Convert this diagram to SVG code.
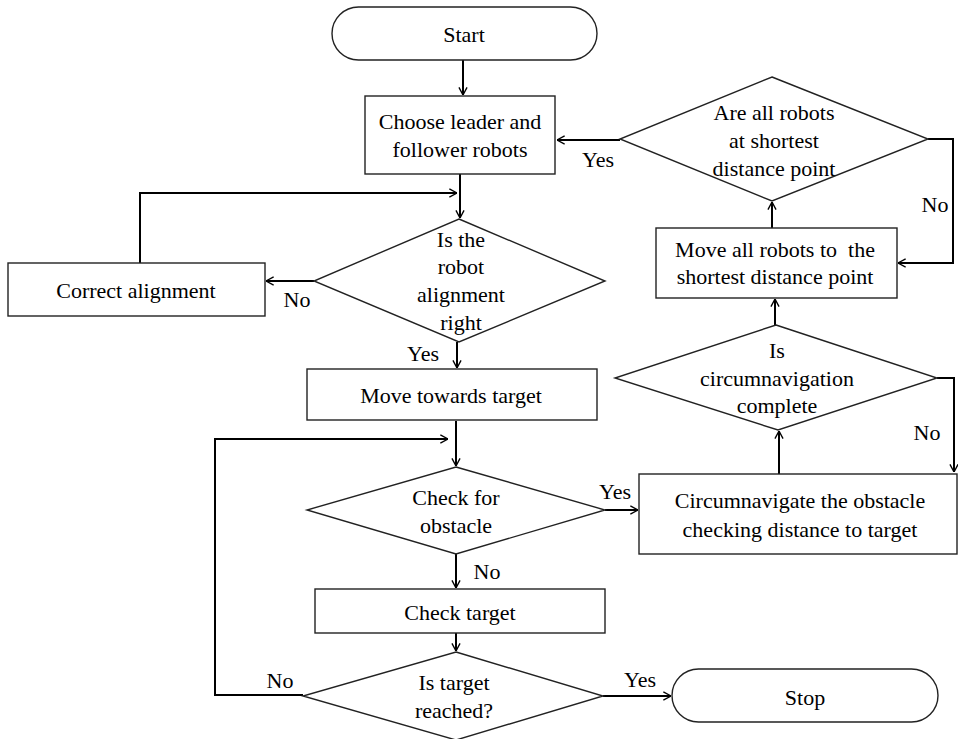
<svg xmlns="http://www.w3.org/2000/svg" width="958" height="739" viewBox="0 0 958 739">
<style>
.shape{fill:#fff;stroke:#222;stroke-width:1.4}
.conn{fill:none;stroke:#000;stroke-width:2}
text{font-family:"Liberation Serif","Times New Roman",serif;font-size:22px;fill:#000;text-anchor:middle}
</style>
<defs>
<marker id="arr" viewBox="0 0 10 10" markerWidth="9" markerHeight="11" refX="9.5" refY="5" orient="auto" markerUnits="userSpaceOnUse">
<path d="M1,0.5 L9.5,5 L1,9.5" fill="none" stroke="#000" stroke-width="1.5"/>
</marker>
</defs>
<rect width="958" height="739" fill="#fff"/>
<g id="connectors">
<path class="conn" d="M463,60 V95" marker-end="url(#arr)"/>
<path class="conn" d="M460,174 V218" marker-end="url(#arr)"/>
<path class="conn" d="M140,263 V193 H457" marker-end="url(#arr)"/>
<path class="conn" d="M314,281 H266" marker-end="url(#arr)"/>
<path class="conn" d="M457,342 V368" marker-end="url(#arr)"/>
<path class="conn" d="M456,421 V466" marker-end="url(#arr)"/>
<path class="conn" d="M303,695 H215 V439 H448" marker-end="url(#arr)"/>
<path class="conn" d="M456,554 V588" marker-end="url(#arr)"/>
<path class="conn" d="M456,633 V651" marker-end="url(#arr)"/>
<path class="conn" d="M603,696 H671" marker-end="url(#arr)"/>
<path class="conn" d="M605,510 H638" marker-end="url(#arr)"/>
<path class="conn" d="M779,474 V431" marker-end="url(#arr)"/>
<path class="conn" d="M775,325 V299" marker-end="url(#arr)"/>
<path class="conn" d="M937,378 H954 V472" marker-end="url(#arr)"/>
<path class="conn" d="M772,228 V202" marker-end="url(#arr)"/>
<path class="conn" d="M928,139 H953 V263 H898" marker-end="url(#arr)"/>
<path class="conn" d="M620,140 H557" marker-end="url(#arr)"/>
</g>
<g id="labels">
<text x="598" y="167">Yes</text>
<text x="935" y="212">No</text>
<text x="297" y="307">No</text>
<text x="423" y="361">Yes</text>
<text x="927" y="440">No</text>
<text x="615" y="499">Yes</text>
<text x="487" y="579">No</text>
<text x="280" y="688">No</text>
<text x="640" y="687">Yes</text>
</g>
<g id="start">
<rect class="shape" x="332" y="7" width="265" height="53" rx="26.5"/>
<text x="464" y="42">Start</text>
</g>
<g id="choose">
<rect class="shape" x="365" y="96" width="190" height="78"/>
<text x="460" y="129">Choose leader and</text>
<text x="460" y="157">follower robots</text>
</g>
<g id="alignment-check">
<polygon class="shape" points="459,219 605,281 459,342 314,281"/>
<text x="461" y="247">Is the</text>
<text x="461" y="274">robot</text>
<text x="461" y="302">alignment</text>
<text x="461" y="330">right</text>
</g>
<g id="correct">
<rect class="shape" x="8" y="263" width="257" height="53"/>
<text x="136" y="298">Correct alignment</text>
</g>
<g id="move-towards">
<rect class="shape" x="307" y="369" width="290" height="51"/>
<text x="451" y="403">Move towards target</text>
</g>
<g id="obstacle-check">
<polygon class="shape" points="456,467 605,510 456,554 307,510"/>
<text x="456" y="505">Check for</text>
<text x="456" y="533">obstacle</text>
</g>
<g id="check-target">
<rect class="shape" x="315" y="589" width="290" height="44"/>
<text x="460" y="620">Check target</text>
</g>
<g id="target-reached">
<polygon class="shape" points="456,652 603,696 456,740 303,696"/>
<text x="454" y="690">Is target</text>
<text x="454" y="718">reached?</text>
</g>
<g id="stop">
<rect class="shape" x="672" y="669" width="266" height="53" rx="26.5"/>
<text x="805" y="705">Stop</text>
</g>
<g id="circumnavigate">
<rect class="shape" x="639" y="474" width="318" height="80"/>
<text x="800" y="508">Circumnavigate the obstacle</text>
<text x="800" y="537">checking distance to target</text>
</g>
<g id="circ-complete">
<polygon class="shape" points="776,325 937,378 778,430 615,378"/>
<text x="777" y="358">Is</text>
<text x="777" y="386">circumnavigation</text>
<text x="777" y="413">complete</text>
</g>
<g id="move-all">
<rect class="shape" x="656" y="228" width="241" height="70"/>
<text x="775" y="257" xml:space="preserve">Move all robots to  the</text>
<text x="775" y="284">shortest distance point</text>
</g>
<g id="shortest-check">
<polygon class="shape" points="772,77 928,139 772,201 620,139"/>
<text x="774" y="120">Are all robots</text>
<text x="774" y="148">at shortest</text>
<text x="774" y="176">distance point</text>
</g>
</svg>
